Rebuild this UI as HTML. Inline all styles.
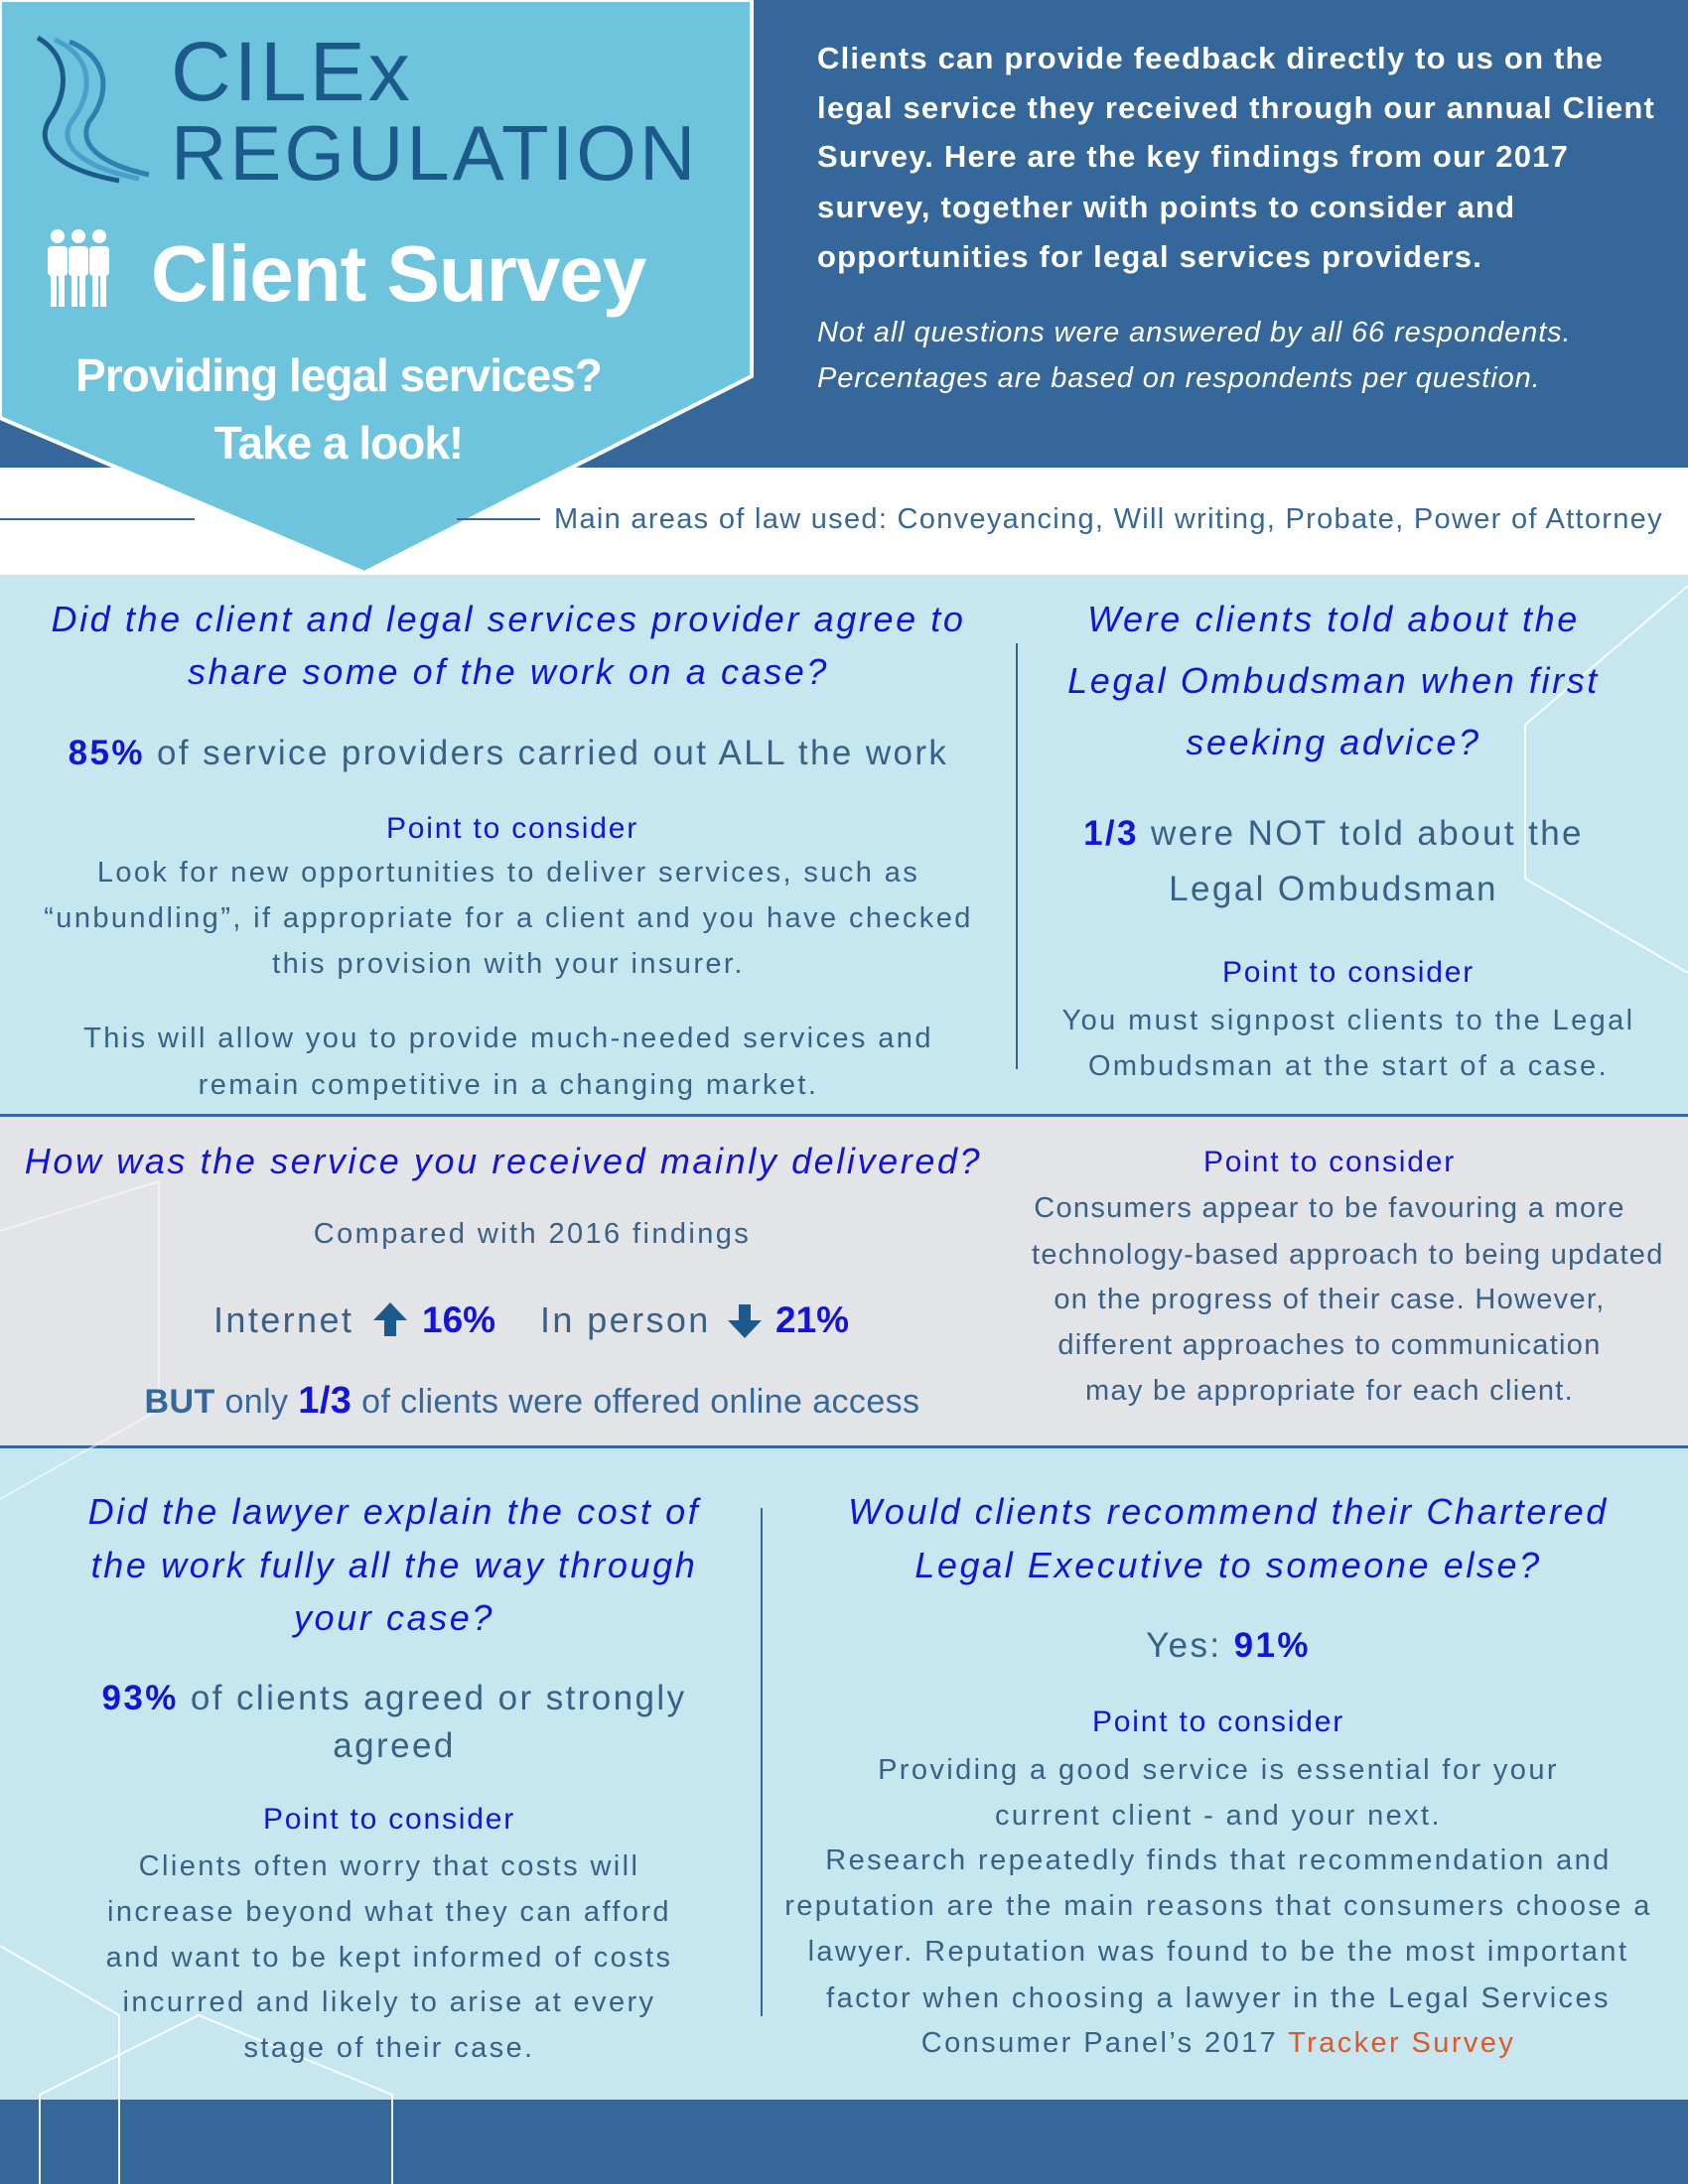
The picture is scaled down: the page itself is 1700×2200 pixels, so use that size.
<!DOCTYPE html>
<html><head><meta charset="utf-8">
<style>
*{margin:0;padding:0;box-sizing:border-box}
body{width:1700px;height:2200px;position:relative;overflow:hidden;background:#c6e7f0;font-family:"Liberation Sans",sans-serif}
.a{position:absolute;white-space:nowrap}
.c{text-align:center}
.h{color:#1414d8;font-style:italic;font-size:36px;letter-spacing:2.6px;line-height:40px}
.b{color:#3a6185;font-size:29px;letter-spacing:2.4px;line-height:32px}
.s{letter-spacing:1.3px}
.p{color:#1414d8;font-size:30px;letter-spacing:1.8px;line-height:32px}
.n{color:#1414d8;font-weight:bold}
.w{color:#fff;font-weight:bold;font-size:31px;line-height:34px;letter-spacing:1.2px}
.wi{color:#fff;font-style:italic;font-size:29px;line-height:32px;letter-spacing:0.9px}
</style></head><body>
<div class="a" style="left:0;top:0;width:1700px;height:471px;background:#35679a"></div>
<div class="a" style="left:0;top:471px;width:1700px;height:108px;background:#fff"></div>
<div class="a" style="left:0;top:1122px;width:1700px;height:3px;background:#35679a"></div>
<div class="a" style="left:0;top:1125px;width:1700px;height:331px;background:#e2e4e7"></div>
<div class="a" style="left:0;top:1456px;width:1700px;height:3px;background:#35679a"></div>
<div class="a" style="left:0;top:2115px;width:1700px;height:85px;background:#35679a"></div>

<svg class="a" style="left:0;top:0" width="1700" height="2200">
<polygon points="0,0 757,0 757,379 367,577 0,421" fill="#6ec4dc" stroke="#fff" stroke-width="4"/>
<line x1="0" y1="523" x2="196" y2="523" stroke="#35679a" stroke-width="2"/>
<line x1="460" y1="523" x2="544" y2="523" stroke="#35679a" stroke-width="2"/>
<line x1="1024" y1="648" x2="1024" y2="1077" stroke="#35679a" stroke-width="2"/>
<line x1="767" y1="1519" x2="767" y2="2031" stroke="#35679a" stroke-width="2"/>
<g stroke="#fff" stroke-width="2" fill="none" opacity="0.9">
<polyline points="1700,590 1536,730 1536,885 1700,980"/>
<polyline points="0,1240 160,1190 160,1420 0,1510" opacity="0.6"/>
<polyline points="0,1960 120,2030 120,2200"/>
<polyline points="40,2200 40,2110 200,2030 395,2110 395,2200"/>
</g>
<g fill="none" stroke-width="5">
<path d="M38,38 C75,60 65,100 50,120 C35,145 55,170 120,182" stroke="#1d5a8c"/>
<path d="M55,40 C100,60 90,100 72,122 C58,145 80,168 140,180" stroke="#4aa0c8"/>
<path d="M70,42 C115,60 108,100 90,122 C78,145 100,165 150,176" stroke="#2f7fb0"/>
</g>
<g fill="#fff">
<circle cx="58" cy="238" r="7"/><circle cx="79" cy="238" r="7"/><circle cx="100" cy="238" r="7"/>
<rect x="48" y="248" width="20" height="30" rx="4"/><rect x="69" y="248" width="20" height="30" rx="4"/><rect x="90" y="248" width="20" height="30" rx="4"/>
<rect x="51" y="276" width="6" height="33"/><rect x="59" y="276" width="6" height="33"/>
<rect x="72" y="276" width="6" height="33"/><rect x="80" y="276" width="6" height="33"/>
<rect x="93" y="276" width="6" height="33"/><rect x="101" y="276" width="6" height="33"/>
</g>
<polygon points="393,1312 376,1330 387,1330 387,1346 399,1346 399,1330 410,1330" fill="#1d5a8c"/>
<polygon points="750,1348 733,1330 744,1330 744,1314 756,1314 756,1330 767,1330" fill="#1d5a8c"/>
</svg>

<div class="a" style="left:172px;top:30px;font-size:84px;line-height:84px;color:#1d5a8c;letter-spacing:3px">CILEx</div>
<div class="a" style="left:172px;top:114px;font-size:78px;line-height:80px;color:#1d5a8c;letter-spacing:3px">REGULATION</div>
<div class="a" style="left:152px;top:234px;font-size:80px;line-height:84px;color:#fff;font-weight:bold;letter-spacing:-1px">Client Survey</div>
<div class="a c" style="left:0;width:682px;top:353px;font-size:46px;line-height:50px;color:#fff;font-weight:bold;letter-spacing:-1px">Providing legal services?</div>
<div class="a c" style="left:0;width:682px;top:421px;font-size:46px;line-height:50px;color:#fff;font-weight:bold;letter-spacing:-1px">Take a look!</div>

<div class="a w" style="left:823px;top:42px">Clients can provide feedback directly to us on the</div>
<div class="a w" style="left:823px;top:92px">legal service they received through our annual Client</div>
<div class="a w" style="left:823px;top:141px">Survey. Here are the key findings from our 2017</div>
<div class="a w" style="left:823px;top:192px">survey, together with points to consider and</div>
<div class="a w" style="left:823px;top:242px">opportunities for legal services providers.</div>
<div class="a wi" style="left:823px;top:319px">Not all questions were answered by all 66 respondents.</div>
<div class="a wi" style="left:823px;top:365px">Percentages are based on respondents per question.</div>

<div class="a" style="left:558px;top:507px;font-size:29px;line-height:32px;color:#35679a;letter-spacing:1.3px">Main areas of law used: Conveyancing, Will writing, Probate, Power of Attorney</div>

<div class="a c h" style="left:12px;width:1000px;top:604px">Did the client and legal services provider agree to</div>
<div class="a c h" style="left:12px;width:1000px;top:657px">share some of the work on a case?</div>
<div class="a c b" style="left:12px;width:1000px;top:740px;font-size:35px;line-height:38px"><span class="n">85%</span> of service providers carried out ALL the work</div>
<div class="a c p" style="left:16px;width:1000px;top:819px">Point to consider</div>
<div class="a c b" style="left:12px;width:1000px;top:863px">Look for new opportunities to deliver services, such as</div>
<div class="a c b" style="left:12px;width:1000px;top:909px">“unbundling”, if appropriate for a client and you have checked</div>
<div class="a c b" style="left:12px;width:1000px;top:955px">this provision with your insurer.</div>
<div class="a c b" style="left:12px;width:1000px;top:1030px">This will allow you to provide much-needed services and</div>
<div class="a c b" style="left:12px;width:1000px;top:1077px">remain competitive in a changing market.</div>

<div class="a c h" style="left:1043px;width:600px;top:604px">Were clients told about the</div>
<div class="a c h" style="left:1043px;width:600px;top:666px">Legal Ombudsman when first</div>
<div class="a c h" style="left:1043px;width:600px;top:728px">seeking advice?</div>
<div class="a c b" style="left:1043px;width:600px;top:821px;font-size:35px;line-height:38px"><span class="n">1/3</span> were NOT told about the</div>
<div class="a c b" style="left:1043px;width:600px;top:877px;font-size:35px;line-height:38px">Legal Ombudsman</div>
<div class="a c p" style="left:1058px;width:600px;top:964px">Point to consider</div>
<div class="a c b" style="left:1058px;width:600px;top:1012px">You must signpost clients to the Legal</div>
<div class="a c b" style="left:1058px;width:600px;top:1058px">Ombudsman at the start of a case.</div>

<div class="a c h" style="left:7px;width:1000px;top:1150px">How was the service you received mainly delivered?</div>
<div class="a c b" style="left:36px;width:1000px;top:1227px">Compared with 2016 findings</div>
<div class="a b" style="left:215px;top:1311px;font-size:36px;line-height:38px">Internet</div>
<div class="a n" style="left:425px;top:1311px;font-size:37px;line-height:38px">16%</div>
<div class="a b" style="left:544px;top:1311px;font-size:36px;line-height:38px">In person</div>
<div class="a n" style="left:781px;top:1311px;font-size:37px;line-height:38px">21%</div>
<div class="a c" style="left:36px;width:1000px;top:1392px;font-size:34px;line-height:38px;color:#35679a;letter-spacing:0.4px"><b>BUT</b> only <span class="n" style="font-size:38px">1/3</span> of clients were offered online access</div>
<div class="a c p" style="left:1039px;width:600px;top:1155px">Point to consider</div>
<div class="a c b s" style="left:1039px;width:600px;top:1201px">Consumers appear to be favouring a more</div>
<div class="a c b s" style="left:1039px;width:600px;top:1248px">technology-based approach to being updated</div>
<div class="a c b s" style="left:1039px;width:600px;top:1293px">on the progress of their case. However,</div>
<div class="a c b s" style="left:1039px;width:600px;top:1339px">different approaches to communication</div>
<div class="a c b s" style="left:1039px;width:600px;top:1385px">may be appropriate for each client.</div>

<div class="a c h" style="left:47px;width:700px;top:1503px">Did the lawyer explain the cost of</div>
<div class="a c h" style="left:47px;width:700px;top:1557px">the work fully all the way through</div>
<div class="a c h" style="left:47px;width:700px;top:1610px">your case?</div>
<div class="a c b" style="left:47px;width:700px;top:1692px;font-size:35px;line-height:38px"><span class="n">93%</span> of clients agreed or strongly</div>
<div class="a c b" style="left:47px;width:700px;top:1740px;font-size:35px;line-height:38px">agreed</div>
<div class="a c p" style="left:42px;width:700px;top:1817px">Point to consider</div>
<div class="a c b" style="left:42px;width:700px;top:1864px">Clients often worry that costs will</div>
<div class="a c b" style="left:42px;width:700px;top:1910px">increase beyond what they can afford</div>
<div class="a c b" style="left:42px;width:700px;top:1956px">and want to be kept informed of costs</div>
<div class="a c b" style="left:42px;width:700px;top:2001px">incurred and likely to arise at every</div>
<div class="a c b" style="left:42px;width:700px;top:2047px">stage of their case.</div>

<div class="a c h" style="left:787px;width:900px;top:1503px">Would clients recommend their Chartered</div>
<div class="a c h" style="left:787px;width:900px;top:1557px">Legal Executive to someone else?</div>
<div class="a c b" style="left:787px;width:900px;top:1639px;font-size:35px;line-height:38px">Yes: <span class="n">91%</span></div>
<div class="a c p" style="left:777px;width:900px;top:1719px">Point to consider</div>
<div class="a c b" style="left:777px;width:900px;top:1767px">Providing a good service is essential for your</div>
<div class="a c b" style="left:777px;width:900px;top:1813px">current client - and your next.</div>
<div class="a c b" style="left:777px;width:900px;top:1858px">Research repeatedly finds that recommendation and</div>
<div class="a c b" style="left:777px;width:900px;top:1904px">reputation are the main reasons that consumers choose a</div>
<div class="a c b" style="left:777px;width:900px;top:1950px">lawyer. Reputation was found to be the most important</div>
<div class="a c b" style="left:777px;width:900px;top:1997px">factor when choosing a lawyer in the Legal Services</div>
<div class="a c b" style="left:777px;width:900px;top:2042px">Consumer Panel’s 2017 <span style="color:#e0582a">Tracker Survey</span></div>
</body></html>
